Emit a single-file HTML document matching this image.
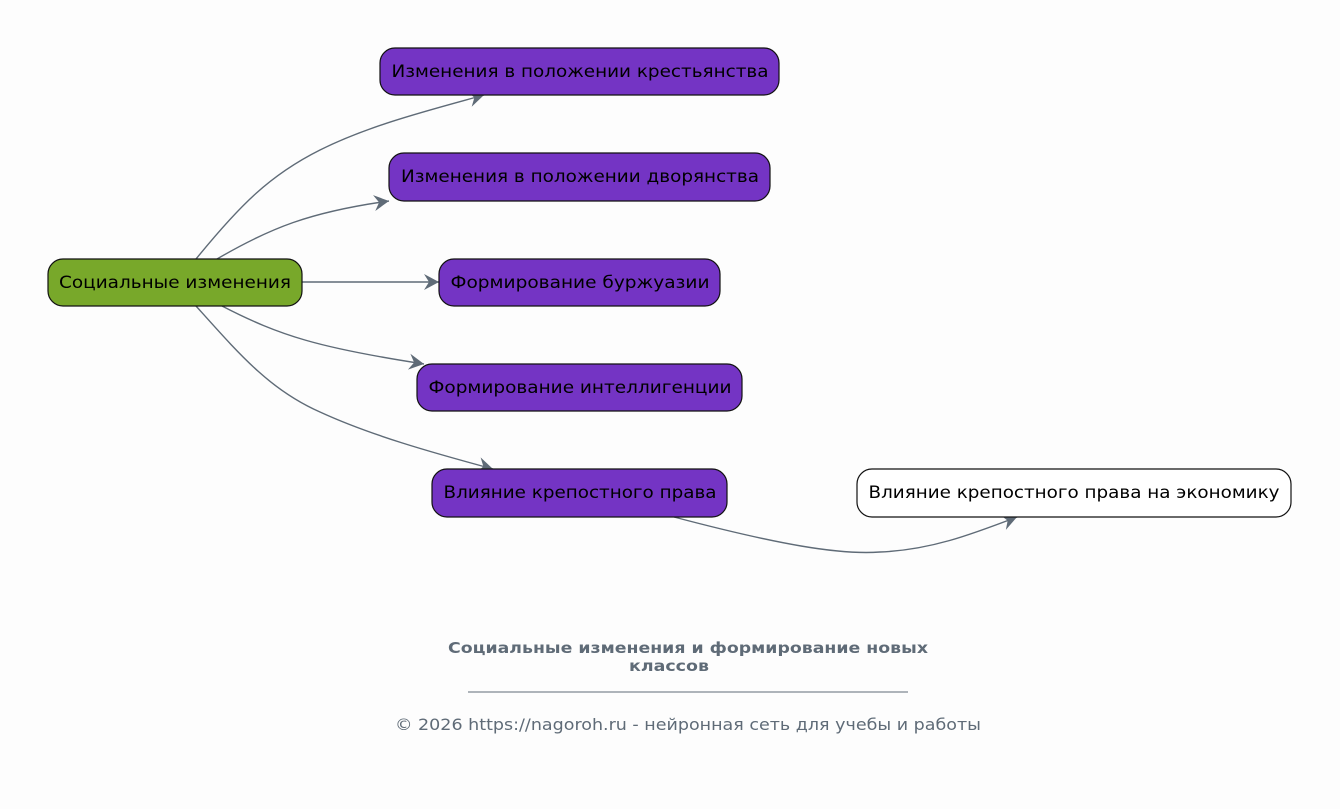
<!DOCTYPE html>
<html><head><meta charset="utf-8"><style>
html,body{margin:0;padding:0;background:#fdfdfd;}
svg{display:block;font-family:"DejaVu Sans","Liberation Sans",sans-serif;}
</style></head><body>
<svg width="1340" height="809" viewBox="0 0 1340 809" xmlns="http://www.w3.org/2000/svg">
<defs>
<marker id="a" viewBox="0 0 20 20" refX="18" refY="10" markerWidth="20" markerHeight="20" markerUnits="userSpaceOnUse" orient="auto">
<path d="M3,2 L18,10 L3,18 L8,10 Z" fill="#5f6b77"/>
</marker>
</defs>
<rect width="1340" height="809" fill="#fdfdfd"/>
<g fill="none" stroke="#5f6b77" stroke-width="1.4">
<path d="M196,259 C240,205 270,175 320,150 C370,125 430,110 484,95" marker-end="url(#a)"/>
<path d="M217,259 C270,228 310,212 389,201" marker-end="url(#a)"/>
<path d="M302,282 L439,282" marker-end="url(#a)"/>
<path d="M222,306 C280,336 320,348 424,364" marker-end="url(#a)"/>
<path d="M196,306 C240,355 270,390 320,412 C370,435 430,452 493,469" marker-end="url(#a)"/>
<path d="M674,517 C780,545 840,555 880,552 C930,550 970,535 1017,517" marker-end="url(#a)"/>
</g>
<g stroke="#111" stroke-width="1.2">
<rect x="48" y="259" width="254" height="47" rx="15" fill="#78a82a"/>
<rect x="380" y="48" width="399" height="47" rx="15" fill="#7434c4"/>
<rect x="389" y="153" width="381" height="48" rx="15" fill="#7434c4"/>
<rect x="439" y="259" width="281" height="47" rx="15" fill="#7434c4"/>
<rect x="417" y="364" width="325" height="47" rx="15" fill="#7434c4"/>
<rect x="432" y="469" width="295" height="48" rx="15" fill="#7434c4"/>
<rect x="857" y="469" width="434" height="48" rx="15" fill="#ffffff"/>
</g>
<g font-size="17" fill="#000" text-anchor="middle">
<text x="175" y="288" textLength="232" lengthAdjust="spacingAndGlyphs">Социальные изменения</text>
<text x="580" y="77" textLength="377" lengthAdjust="spacingAndGlyphs">Изменения в положении крестьянства</text>
<text x="580" y="182" textLength="358" lengthAdjust="spacingAndGlyphs">Изменения в положении дворянства</text>
<text x="580" y="288" textLength="259" lengthAdjust="spacingAndGlyphs">Формирование буржуазии</text>
<text x="580" y="393" textLength="303" lengthAdjust="spacingAndGlyphs">Формирование интеллигенции</text>
<text x="580" y="498" textLength="273" lengthAdjust="spacingAndGlyphs">Влияние крепостного права</text>
<text x="1074" y="498" textLength="411" lengthAdjust="spacingAndGlyphs">Влияние крепостного права на экономику</text>
</g>
<g fill="#5f6b77" text-anchor="middle">
<text x="688" y="653" font-size="15" font-weight="bold" textLength="480" lengthAdjust="spacingAndGlyphs">Социальные изменения и формирование новых</text>
<text x="669" y="671" font-size="15" font-weight="bold" textLength="80" lengthAdjust="spacingAndGlyphs">классов</text>
<line x1="468" y1="692" x2="908" y2="692" stroke="#5f6b77" stroke-width="1"/>
<text x="688" y="730" font-size="16" textLength="586" lengthAdjust="spacingAndGlyphs">© 2026 https://nagoroh.ru - нейронная сеть для учебы и работы</text>
</g>
</svg>
</body></html>
